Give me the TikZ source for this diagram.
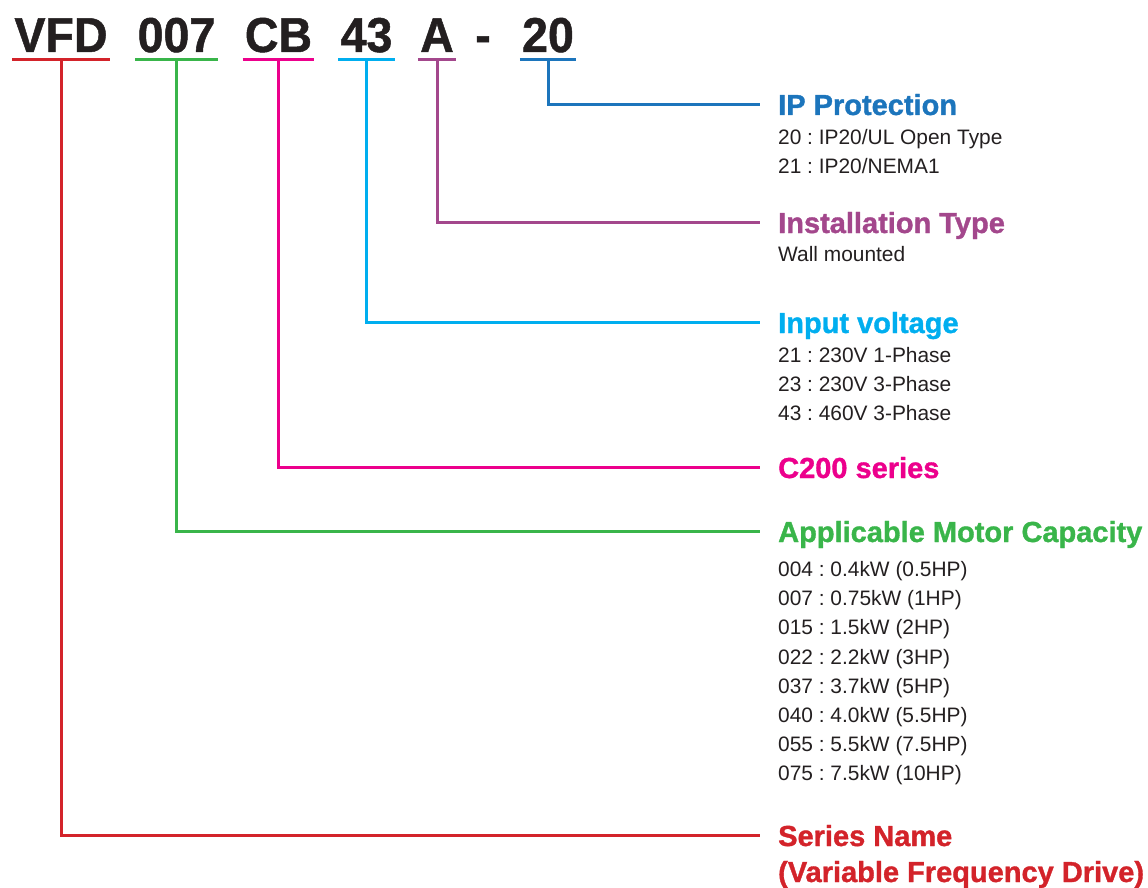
\documentclass[tikz,border=0pt]{standalone}
\usepackage{fontspec}
\setmainfont{Liberation Sans}
\newfontfamily\heavyfont{Liberation Sans}[FakeBold=1.2]
\newfontfamily\codefont{Liberation Sans}[FakeBold=1.0,FakeStretch=0.95]
\usetikzlibrary{positioning}
\definecolor{ccred}{RGB}{211,35,42}
\definecolor{ccgreen}{RGB}{57,181,74}
\definecolor{ccmag}{RGB}{236,0,140}
\definecolor{cccyan}{RGB}{0,174,239}
\definecolor{ccpurp}{RGB}{163,71,140}
\definecolor{ccblue}{RGB}{28,117,188}
\definecolor{cctext}{RGB}{35,31,32}
\frenchspacing

\begin{document}
\begin{tikzpicture}[line cap=butt,line join=miter,x=1pt,y=-1pt,
	code/.style={anchor=base,inner xsep=2pt,inner ysep=7pt,text depth=0pt,text=cctext,font=\fontsize{49}{49}\codefont\bfseries},
	title/.style={anchor=base west,inner sep=0pt,font=\fontsize{29}{29}\heavyfont\bfseries},
	body/.style={anchor=base west,inner sep=0pt,text=cctext,font=\fontsize{20.9}{20.9}\selectfont},
	lead/.style={line width=3pt}]
	\useasboundingbox (0,0) rectangle (1148,888);
	% code segments
	\node[code] (vfd) at (61,52) {VFD};
	\node[code] (cap) at (176.5,52) {007};
	\node[code] (ser) at (278.5,52) {CB};
	\node[code] (volt) at (366.5,52) {43};
	\node[code] (inst) at (437,52) {A};
	\node[code] (dash) at (483,52) {-};
	\node[code] (ip) at (548,52) {20};
	% titles
	\node[title,text=ccblue] (tip) at (778,115) {IP Protection};
	\node[body] (ip20) at (778,144.5) {20 : IP20/UL Open Type};
	\node[body] (ip21) at (778,173.7) {21 : IP20/NEMA1};
	\node[title,text=ccpurp] (tinst) at (778,233) {Installation Type};
	\node[body] (wall) at (778,261.5) {Wall mounted};
	\node[title,text=cccyan] (tvolt) at (778,333) {Input voltage};
	\node[body] (v21) at (778,362) {21 : 230V 1-Phase};
	\node[body] (v23) at (778,391.2) {23 : 230V 3-Phase};
	\node[body] (v43) at (778,420.4) {43 : 460V 3-Phase};
	\node[title,text=ccmag] (tser) at (778,478) {C200 series};
	\node[title,text=ccgreen] (tcap) at (778,542) {Applicable Motor Capacity};
	\foreach \t [count=\i] in {{004 : 0.4kW (0.5HP)},{007 : 0.75kW (1HP)},{015 : 1.5kW (2HP)},{022 : 2.2kW (3HP)},{037 : 3.7kW (5HP)},{040 : 4.0kW (5.5HP)},{055 : 5.5kW (7.5HP)},{075 : 7.5kW (10HP)}}
		\node[body] (kw\i) at (778,547.3+29.2*\i) {\t};
	\node[title,text=ccred] (tvfd) at (778,846) {Series Name};
	\node[title,text=ccred] (tvfd2) at (778,882) {(Variable Frequency Drive)};
	% underlines and leads
	\draw[lead,ccred] (vfd.south west) -- (vfd.south east);
	\draw[lead,ccred] (vfd.south) |- ([xshift=-18pt,yshift=10.5pt]tvfd.base west);
	\draw[lead,ccgreen] (cap.south west) -- (cap.south east);
	\draw[lead,ccgreen] (cap.south) |- ([xshift=-18pt,yshift=10.5pt]tcap.base west);
	\draw[lead,ccmag] (ser.south west) -- (ser.south east);
	\draw[lead,ccmag] (ser.south) |- ([xshift=-18pt,yshift=10.5pt]tser.base west);
	\draw[lead,cccyan] (volt.south west) -- (volt.south east);
	\draw[lead,cccyan] (volt.south) |- ([xshift=-18pt,yshift=10.5pt]tvolt.base west);
	\draw[lead,ccpurp] (inst.south west) -- (inst.south east);
	\draw[lead,ccpurp] (inst.south) |- ([xshift=-18pt,yshift=10.5pt]tinst.base west);
	\draw[lead,ccblue] (ip.south west) -- (ip.south east);
	\draw[lead,ccblue] (ip.south) |- ([xshift=-18pt,yshift=10.5pt]tip.base west);
\end{tikzpicture}
\end{document}
